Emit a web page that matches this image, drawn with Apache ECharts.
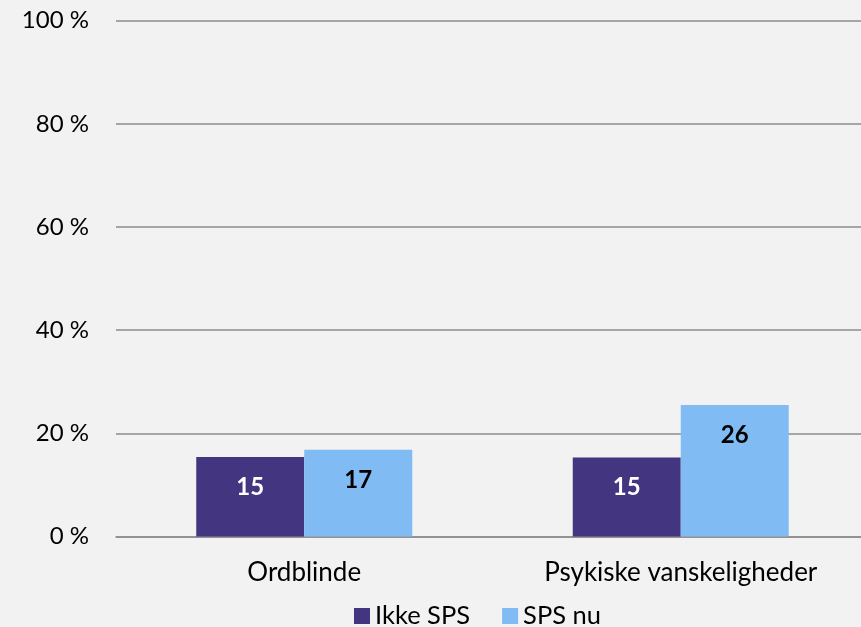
<!DOCTYPE html>
<html>
<head>
<meta charset="utf-8">
<script src="https://cdn.jsdelivr.net/npm/echarts@6/dist/echarts.min.js"></script>
<style>
html,body{margin:0;padding:0;background:#f2f2f2;}
#chart{width:861px;height:627px;}
</style>
</head>
<body>
<div id="chart"></div>
<script>
const categories = ['Ordblinde', 'Psykiske vanskeligheder'];
const seriesNames = ['Ikke SPS', 'SPS nu'];
const ikkeSPS = [15.4, 15.3];
const spsNu = [16.8, 25.5];
const yTicks = [0, 20, 40, 60, 80, 100];

const FONT = 'Lato';
const chart = echarts.init(document.getElementById('chart'), null, {renderer: 'canvas'});
const labelCommon = {
  show: true,
  position: 'insideTop',
  distance: 18,
  fontFamily: FONT,
  fontSize: 24,
  fontWeight: 'bold',
  formatter: p => Math.round(p.value)
};
chart.setOption({
  backgroundColor: '#f2f2f2',
  animation: false,
  grid: {left: 116, right: -8, top: 20.7, bottom: 90.5, containLabel: false, outerBoundsMode: 'none'},
  legend: {
    data: seriesNames,
    left: 349,
    top: 598,
    icon: 'rect',
    itemWidth: 16,
    itemHeight: 16,
    itemGap: 32,
    textStyle: {fontFamily: FONT, fontSize: 25.5, color: '#000'}
  },
  xAxis: {
    type: 'category',
    data: categories,
    axisLine: {show: true, lineStyle: {color: '#8c8c8c', width: 1.5}},
    axisTick: {show: false},
    axisLabel: {fontFamily: FONT, fontSize: 26, color: '#000', margin: 23}
  },
  yAxis: {
    type: 'value',
    min: yTicks[0],
    max: yTicks[yTicks.length - 1],
    interval: yTicks[1] - yTicks[0],
    axisLine: {show: false},
    axisTick: {show: false},
    splitLine: {lineStyle: {color: '#8c8c8c', width: 1.5}},
    axisLabel: {fontFamily: FONT, fontSize: 24, color: '#000', margin: 27, formatter: v => v + ' %'}
  },
  series: [
    {
      name: seriesNames[0],
      type: 'bar',
      data: ikkeSPS,
      barGap: '0%',
      barWidth: 108,
      itemStyle: {color: '#433580'},
      label: Object.assign({}, labelCommon, {color: '#ffffff'})
    },
    {
      name: seriesNames[1],
      type: 'bar',
      data: spsNu,
      barGap: '0%',
      barWidth: 108,
      itemStyle: {color: '#80bbf3'},
      label: Object.assign({}, labelCommon, {color: '#000000'})
    }
  ]
});
</script>
</body>
</html>
